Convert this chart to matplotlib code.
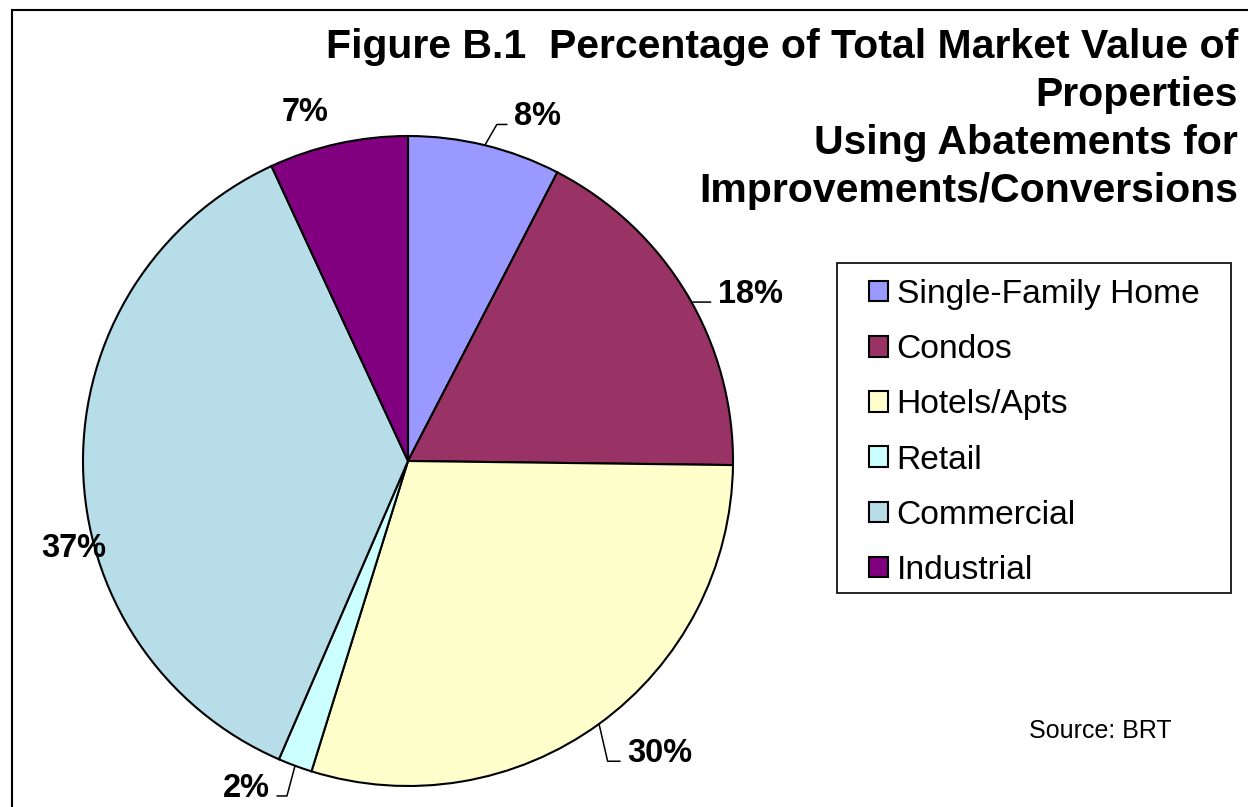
import matplotlib
matplotlib.use('Agg')
import numpy as np
import matplotlib.pyplot as plt
from matplotlib.patches import Rectangle

# dados do gráfico
categorias = ['Single-Family Home', 'Condos', 'Hotels/Apts', 'Retail', 'Commercial', 'Industrial']
valores = [7.6, 17.6, 29.6, 1.7, 36.6, 6.9]
cores = ['#9999FF', '#993366', '#FFFFCC', '#CCFFFF', '#B7DDE8', '#800080']

titulo_linhas = ['Figure B.1  Percentage of Total Market Value of', 'Properties',
                 'Using Abatements for', 'Improvements/Conversions']
fonte = 'Source: BRT'

# deslocamento dos rótulos (pontos), alinhamento e linha guia
rotulos_cfg = [
    dict(off=(20.9, 14.4), ha='left', guia=60),
    dict(off=(22.3, -6.5), ha='left', guia=-60),
    dict(off=(20.2, -27.4), ha='left', guia=-77),
    dict(off=(-18.0, -22.3), ha='right', guia=75),
    dict(off=(-6.5, -66.2), ha='center', guia=None),
    dict(off=(-23.8, 16.6), ha='center', guia=None),
]

W, H = 1248, 807
fig = plt.figure(figsize=(W / 100, H / 100), dpi=100)
fig.patch.set_facecolor('white')

# pizza
ax = fig.add_axes([(408 - 325) / W, (H - 461 - 325) / H, 650 / W, 650 / H])
wedges, _ = ax.pie(valores, colors=cores, startangle=90, counterclock=False,
                   wedgeprops=dict(edgecolor='black', linewidth=1.5))
ax.set_xlim(-1, 1)
ax.set_ylim(-1, 1)
ax.axis('off')

familia = ['Liberation Sans', 'DejaVu Sans']
for w, v, cfg in zip(wedges, valores, rotulos_cfg):
    ang = np.deg2rad((w.theta1 + w.theta2) / 2)
    xy = (np.cos(ang), np.sin(ang))
    if cfg['guia'] is not None:
        rx = 0 if cfg['ha'] == 'left' else 1
        arrow = dict(arrowstyle='-', color='black', lw=1.1, shrinkA=3, shrinkB=0,
                     relpos=(rx, 0.25),
                     connectionstyle='angle,angleA=0,angleB=%d,rad=0' % cfg['guia'])
    else:
        arrow = None
    ax.annotate('%.0f%%' % v, xy=xy, xytext=cfg['off'], textcoords='offset points',
                ha=cfg['ha'], va='baseline', fontsize=23.5, fontweight='bold',
                family=familia, arrowprops=arrow, annotation_clip=False)

# título (uma linha por texto, alinhado à direita)
for i, linha in enumerate(titulo_linhas):
    fig.text(1238 / W, 1 - (58 + 48 * i) / H, linha, ha='right', va='baseline',
             fontsize=29.5, fontweight='bold', family=familia)

# legenda
fig.legend(wedges, categorias, loc='upper left', bbox_to_anchor=(869 / W, 1 - 279 / H),
           frameon=False, borderpad=0, borderaxespad=0,
           handlelength=0.57, handleheight=0.57, handletextpad=0.25, labelspacing=0.72,
           prop=dict(family=familia, size=24.2))
fig.add_artist(Rectangle((837 / W, 1 - 593 / H), (1231 - 837) / W, (593 - 263) / H,
                         transform=fig.transFigure, fill=False, edgecolor='black', lw=1.2))

# fonte
fig.text(1100 / W, 1 - 738 / H, fonte, ha='center', va='baseline', fontsize=18,
         family=familia)

# moldura externa (só topo e esquerda visíveis)
fig.add_artist(Rectangle((12 / W, -0.05), 1.1, 1.05 - 10 / H, transform=fig.transFigure,
                         fill=False, edgecolor='black', lw=1.5, clip_on=False))

fig.savefig('out.png', dpi=100, facecolor='white')
